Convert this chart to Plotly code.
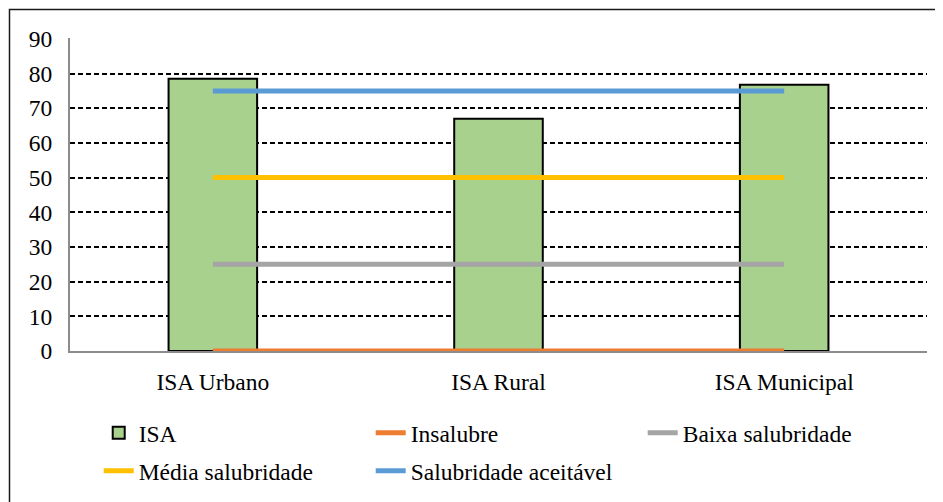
import plotly.graph_objects as go

categories = ["ISA Urbano", "ISA Rural", "ISA Municipal"]
isa_values = [78.5, 67.0, 76.8]
insalubre = [0, 0, 0]
baixa = [25, 25, 25]
media = [50, 50, 50]
aceitavel = [75, 75, 75]
y_ticks = [0, 10, 20, 30, 40, 50, 60, 70, 80, 90]

FONT = "Liberation Serif"
FS = 23.5

fig = go.Figure()
fig.add_trace(go.Bar(
    x=categories, y=isa_values, name="ISA", width=0.31,
    marker=dict(color="#A9D18E", line=dict(color="black", width=2)),
    legend="legend",
))
fig.add_trace(go.Scatter(x=categories, y=insalubre, name="Insalubre", mode="lines",
                         line=dict(color="#ED7D31", width=5), legend="legend"))
fig.add_trace(go.Scatter(x=categories, y=baixa, name="Baixa salubridade", mode="lines",
                         line=dict(color="#A5A5A5", width=5), legend="legend"))
fig.add_trace(go.Scatter(x=categories, y=media, name="Média salubridade", mode="lines",
                         line=dict(color="#FFC000", width=5), legend="legend2"))
fig.add_trace(go.Scatter(x=categories, y=aceitavel, name="Salubridade aceitável", mode="lines",
                         line=dict(color="#5B9BD5", width=5), legend="legend2"))

legend_common = dict(
    orientation="h", font=dict(family=FONT, size=FS, color="black"),
    entrywidth=227, entrywidthmode="pixels", bgcolor="rgba(0,0,0,0)",
    xanchor="left", yanchor="middle", traceorder="normal",
)

fig.update_layout(
    width=943, height=502,
    margin=dict(l=62, r=24, t=30, b=159),
    paper_bgcolor="white", plot_bgcolor="white",
    font=dict(family=FONT, size=FS, color="black"),
    bargap=0.69,
    legend=dict(x=0.0335, y=-0.262, **legend_common),
    legend2=dict(x=0.0335, y=-0.383, **legend_common),
    xaxis=dict(
        showline=True, linecolor="#8C8C8C", linewidth=2, layer="below traces",
        showgrid=False, ticks="", tickfont=dict(family=FONT, size=FS, color="black"),
        ticklabelstandoff=9,
    ),
    yaxis=dict(
        range=[0, 90.25], tickvals=y_ticks, showline=True, linecolor="#8C8C8C", linewidth=2,
        showgrid=True, gridcolor="black", gridwidth=1.5, griddash="5px,3px",
        zeroline=False, ticks="", tickfont=dict(family=FONT, size=FS, color="black"),
        ticklabelstandoff=11, layer="below traces",
    ),
    shapes=[dict(type="rect", xref="paper", yref="paper",
                 x0=-0.0706, x1=1.05, y0=-0.6, y1=1.091,
                 line=dict(color="#1a1a1a", width=1.5), fillcolor="rgba(0,0,0,0)",
                 layer="below")],
)

fig.write_html("out.html")
